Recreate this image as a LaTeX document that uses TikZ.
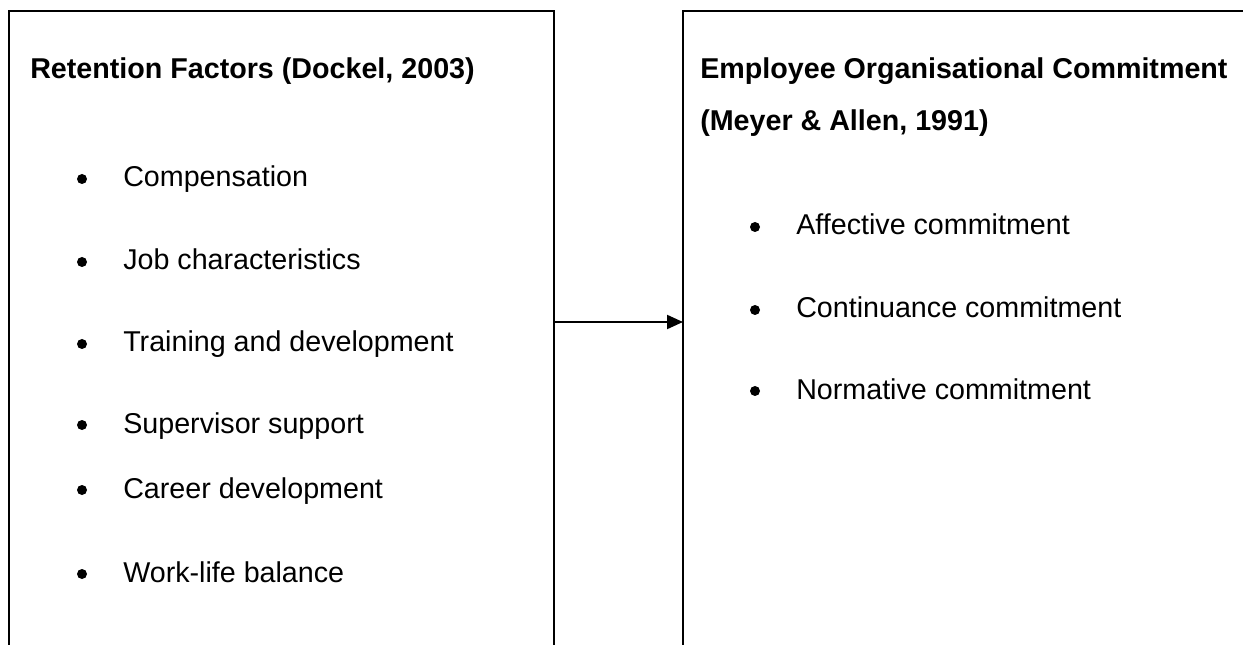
\documentclass[tikz,border=0pt]{standalone}
\usepackage{fontspec}
\setmainfont{Liberation Sans}
\usetikzlibrary{arrows.meta}
\tikzset{
  panel/.style = {draw=black, line width=1.5pt},
  heading/.style = {anchor=base west, inner sep=0pt,
    font=\fontsize{21.5}{26}\selectfont\bfseries},% box title
  item/.style = {anchor=base west, inner sep=0pt,
    font=\fontsize{21.5}{26}\selectfont},% list entry
  dot/.style = {circle, fill=black, inner sep=0pt, minimum size=7.5pt}% bullet
}

\begin{document}
\begin{tikzpicture}[x=0.75pt,y=-0.75pt,>={Triangle[length=12pt,width=10.5pt]}]
    \useasboundingbox (0,0) rectangle (1243,645);
    \clip (0,0) rectangle (1243,645);
    % the two boxes, cut off at the bottom of the page
    \draw[panel] (9,11) rectangle (554,720);
    \draw[panel] (683,11) rectangle (1300,720);
    \coordinate (left east) at (554,322);
    \coordinate (right west) at (683,322);
    \draw[->, line width=1.5pt] (left east) -- (right west);

    % retention factors
    \node [heading] (rf) at (30,79) {Retention Factors (Dockel, 2003)};
    \foreach \name/\y/\txt in {comp/187/Compensation, job/270/Job characteristics,
        train/352/Training and development, sup/433/Supervisor support,
        career/498/Career development, wlb/582/Work-life balance}{
      \node [dot] (\name-dot) at (82,\y-8) {};
      \node [item] (\name) at (123,\y) {\txt};
    }

    % organisational commitment
    \node [heading] (eoc) at (700,79) {Employee Organisational Commitment};
    \node [heading] (ma) at (700,131) {(Meyer \& Allen, 1991)};
    \foreach \name/\y/\txt in {aff/235/Affective commitment,
        cont/318/Continuance commitment, norm/399/Normative commitment}{
      \node [dot] (\name-dot) at (755,\y-8) {};
      \node [item] (\name) at (796,\y) {\txt};
    }
\end{tikzpicture}
\end{document}
